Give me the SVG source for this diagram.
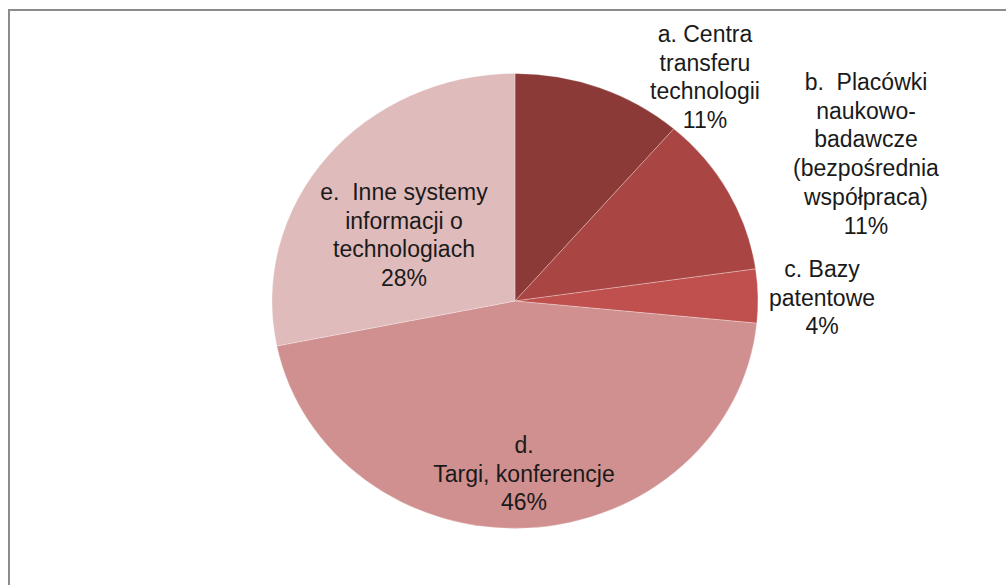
<svg xmlns="http://www.w3.org/2000/svg" width="1006" height="585" viewBox="0 0 1006 585">
  <style>
    .lbl { font-family: "Liberation Sans", Arial, sans-serif; font-size: 23px; fill: #1a1a1a; text-anchor: middle; }
    .slice { stroke: #ffffff; stroke-opacity: 0.35; stroke-width: 0.8; stroke-linejoin: round; }
  </style>
  <rect x="0" y="0" width="1006" height="585" fill="#ffffff"/>
  <path d="M9,586 L9,10 L1006,10" fill="none" stroke="#8c8c8c" stroke-width="2"/>

  <g id="slice-a">
    <path class="slice" fill="#8c3a38" d="M515,301 L515,73.5 A243,227.5 0 0 1 673.8,128.8 Z"/>
    <text class="lbl" x="705" y="42">a. Centra</text>
    <text class="lbl" x="705" y="70.5">transferu</text>
    <text class="lbl" x="705" y="99">technologii</text>
    <text class="lbl" x="705" y="127.5">11%</text>
  </g>
  <g id="slice-b">
    <path class="slice" fill="#a94543" d="M515,301 L673.8,128.8 A243,227.5 0 0 1 755.6,268.9 Z"/>
    <text class="lbl" x="866" y="90" xml:space="preserve">b.  Placówki</text>
    <text class="lbl" x="866" y="118.7">naukowo-</text>
    <text class="lbl" x="866" y="147.4">badawcze</text>
    <text class="lbl" x="866" y="176.1">(bezpośrednia</text>
    <text class="lbl" x="866" y="204.8">współpraca)</text>
    <text class="lbl" x="866" y="233.5">11%</text>
  </g>
  <g id="slice-c">
    <path class="slice" fill="#c0504d" d="M515,301 L755.6,268.9 A243,227.5 0 0 1 756.8,323.2 Z"/>
    <text class="lbl" x="822" y="277">c. Bazy</text>
    <text class="lbl" x="822" y="305.7">patentowe</text>
    <text class="lbl" x="822" y="334.4">4%</text>
  </g>
  <g id="slice-d">
    <path class="slice" fill="#d19090" d="M515,301 L756.8,323.2 A243,227.5 0 0 1 276.8,346 Z"/>
    <text class="lbl" x="524" y="453">d.</text>
    <text class="lbl" x="524" y="481.7">Targi, konferencje</text>
    <text class="lbl" x="524" y="510.4">46%</text>
  </g>
  <g id="slice-e">
    <path class="slice" fill="#e0bbbb" d="M515,301 L276.8,346 A243,227.5 0 0 1 515,73.5 Z"/>
    <text class="lbl" x="404" y="200" xml:space="preserve">e.  Inne systemy</text>
    <text class="lbl" x="404" y="228.7">informacji o</text>
    <text class="lbl" x="404" y="257.4">technologiach</text>
    <text class="lbl" x="404" y="286.1">28%</text>
  </g>
</svg>
